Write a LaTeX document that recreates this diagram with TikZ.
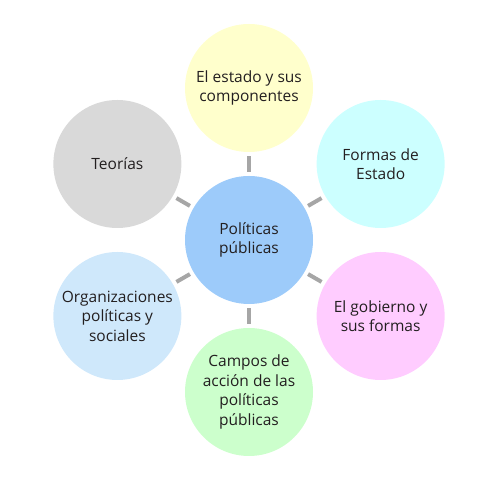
\documentclass[tikz,border=0pt]{standalone}
\usepackage{fontspec}
\setmainfont{Open Sans}
\usetikzlibrary{calc}
\definecolor{txt}{HTML}{231F20}
\definecolor{cCenter}{HTML}{9DCBFA}
\definecolor{cYellow}{HTML}{FFFFCC}
\definecolor{cCyan}{HTML}{CCFFFF}
\definecolor{cPink}{HTML}{FFCCFF}
\definecolor{cGreen}{HTML}{CCFFCC}
\definecolor{cBlue}{HTML}{CFE8FB}
\definecolor{cGray}{HTML}{D9D9D9}
\definecolor{link}{HTML}{A6A6A6}
\tikzset{
  bubble/.style={circle, draw=none, minimum size=128pt, inner sep=0pt, align=center,
    text=txt, font=\fontsize{15.5pt}{19.5pt}\selectfont},
  linkline/.style={draw=link, line width=4pt, shorten <=4pt, shorten >=4pt}
}
\begin{document}
\begin{tikzpicture}[x=1pt,y=1pt]
\useasboundingbox (0,0) rectangle (500,486);
\node[bubble, fill=cCenter] (c) at (249,246) {Políticas\\públicas};
\node[bubble, fill=cYellow] (n1) at ($(c)+(90:152)$) {El estado y sus\\componentes};
\node[bubble, fill=cCyan] (n2) at ($(c)+(30:152)$) {Formas de\\Estado};
\node[bubble, fill=cPink] (n3) at ($(c)+(-30:152)$) {El gobierno y\\sus formas};
\node[bubble, fill=cGreen] (n4) at ($(c)+(-90:152)$) {Campos de\\acción de las\\políticas\\públicas};
\node[bubble, fill=cBlue] (n5) at ($(c)+(210:152)$) {Organizaciones\\políticas y\\sociales};
\node[bubble, fill=cGray] (n6) at ($(c)+(150:152)$) {Teorías};
\foreach \n in {n1,n2,n3,n4,n5,n6} {
  \draw[linkline] (c) -- (\n);
}
\end{tikzpicture}
\end{document}
